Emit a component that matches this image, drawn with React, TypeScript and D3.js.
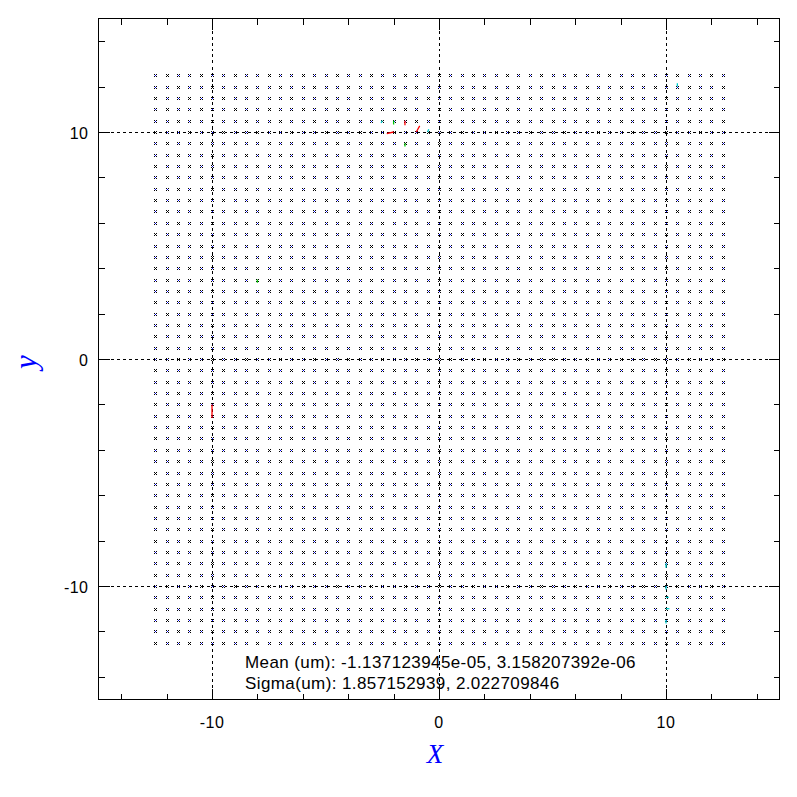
import React from "react";
import * as d3 from "d3";

// lattice of measured positions (same for x and y)
const gridValues = [
  -12.5, -12, -11.5, -11, -10.5, -10, -9.5, -9, -8.5, -8, -7.5, -7, -6.5, -6, -5.5, -5,
  -4.5, -4, -3.5, -3, -2.5, -2, -1.5, -1, -0.5, 0, 0.5, 1, 1.5, 2, 2.5, 3, 3.5, 4, 4.5,
  5, 5.5, 6, 6.5, 7, 7.5, 8, 8.5, 9, 9.5, 10, 10.5, 11, 11.5, 12, 12.5,
];

const majorTicks = [-10, 0, 10];
const minorTicks = [-14, -12, -8, -6, -4, -2, 2, 4, 6, 8, 12, 14];

// residual vectors (start x, start y, end x, end y, colour)
const residuals = [
  { x0: -10, y0: -2, x1: -10, y1: -2.6, c: "#ff0000" },
  { x0: -1, y0: 10, x1: -0.85, y1: 10.27, c: "#ff0000" },
  { x0: -2, y0: 10, x1: -2.3, y1: 9.93, c: "#ff0000" },
  { x0: -1.5, y0: 10.5, x1: -1.5, y1: 10.3, c: "#ff0000" },
  { x0: -2, y0: 10.5, x1: -2, y1: 10.33, c: "#00cc00" },
  { x0: -1.5, y0: 9.5, x1: -1.5, y1: 9.36, c: "#00cc00" },
  { x0: -8, y0: 3.5, x1: -8, y1: 3.36, c: "#00cc00" },
  { x0: -0.5, y0: 10, x1: -0.45, y1: 10.12, c: "#00cccc" },
  { x0: -2.5, y0: 10.5, x1: -2.55, y1: 10.4, c: "#00cccc" },
  { x0: 10, y0: -9, x1: 10, y1: -9.2, c: "#00cccc" },
  { x0: 10, y0: -10.5, x1: 10.12, y1: -10.5, c: "#00cccc" },
  { x0: 10, y0: -11, x1: 10.15, y1: -11, c: "#00cccc" },
  { x0: 10, y0: -11.5, x1: 10, y1: -11.65, c: "#00cccc" },
  { x0: 10.5, y0: 12, x1: 10.5, y1: 12.15, c: "#00cccc" },
  { x0: 10, y0: -10, x1: 10, y1: -10.15, c: "#00cccc" },
];

const statsLines = [
  "Mean (um): -1.137123945e-05, 3.158207392e-06",
  "Sigma(um): 1.857152939, 2.022709846",
];

const W = 797;
const H = 797;
const sans = "'Liberation Sans', Arial, Helvetica, sans-serif";
const serif = "'Liberation Serif', 'Times New Roman', serif";

export default function App() {
  const x = d3.scaleLinear().domain([-15, 15]).range([98.5, 779.5]);
  const y = d3.scaleLinear().domain([-15, 15]).range([699.5, 18.5]);
  const px = (v: number) => Math.round(x(v)) + 0.5;
  const py = (v: number) => Math.round(y(v)) + 0.5;

  // build the x markers as pixel paths
  let black = "";
  let blue = "";
  gridValues.forEach((gx, i) => {
    gridValues.forEach((gy, j) => {
      const cx = Math.round(x(gx));
      const cy = Math.round(y(gy));
      const corners = [
        [cx - 1, cy - 1],
        [cx + 1, cy - 1],
        [cx - 1, cy + 1],
        [cx + 1, cy + 1],
      ];
      corners.forEach(([a, b]) => {
        black += `M${a},${b}h1v1h-1z`;
      });
      // measured marker sits on top of the nominal one: centre pixel blue or black
      if ((i + j) % 3 === 0) black += `M${cx},${cy}h1v1h-1z`;
      else blue += `M${cx},${cy}h1v1h-1z`;
    });
  });

  const [x0, x1] = x.range();
  const [y0, y1] = y.range();

  return (
    <svg
      width={W}
      height={H}
      style={{ position: "absolute", left: 0, top: 0, background: "#fff" }}
    >
      <rect width={W} height={H} fill="#fff" />
      {/* dashed reference lines */}
      <g stroke="#000" strokeWidth={1} strokeDasharray="3,3" shapeRendering="crispEdges">
        {majorTicks.map((t) => (
          <line key={"v" + t} x1={px(t)} x2={px(t)} y1={y1} y2={y0} />
        ))}
        {majorTicks.map((t) => (
          <line key={"h" + t} x1={x0} x2={x1} y1={py(t)} y2={py(t)} />
        ))}
      </g>
      {/* lattice markers */}
      <path d={black} fill="#000" shapeRendering="crispEdges" />
      <path d={blue} fill="#0000ff" shapeRendering="crispEdges" />
      {/* residuals */}
      <g strokeWidth={1.3}>
        {residuals.map((r, i) => (
          <line key={i} x1={x(r.x0)} y1={y(r.y0)} x2={x(r.x1)} y2={y(r.y1)} stroke={r.c} />
        ))}
      </g>
      {/* frame */}
      <rect
        x={x0}
        y={y1}
        width={x1 - x0}
        height={y0 - y1}
        fill="none"
        stroke="#000"
        strokeWidth={1}
        shapeRendering="crispEdges"
      />
      {/* ticks */}
      <g stroke="#000" strokeWidth={1} shapeRendering="crispEdges">
        {[...majorTicks.map((t) => [t, 11]), ...minorTicks.map((t) => [t, 6])].map(([t, len]) => (
          <g key={"t" + t}>
            <line x1={px(t)} x2={px(t)} y1={y0} y2={y0 - len} />
            <line x1={px(t)} x2={px(t)} y1={y1} y2={y1 + len} />
            <line x1={x0} x2={x0 + len} y1={py(t)} y2={py(t)} />
            <line x1={x1} x2={x1 - len} y1={py(t)} y2={py(t)} />
          </g>
        ))}
      </g>
      {/* tick labels */}
      <g fontFamily={sans} fontSize={16} fill="#000">
        {majorTicks.map((t) => (
          <text key={"xl" + t} x={x(t)} y={y0 + 28} textAnchor="middle" letterSpacing={0.5}>
            {t}
          </text>
        ))}
        {majorTicks.map((t) => (
          <text key={"yl" + t} x={x0 - 10} y={y(t) + 7} textAnchor="end" letterSpacing={0.5}>
            {t}
          </text>
        ))}
      </g>
      {/* axis titles */}
      <text
        x={435}
        y={763}
        textAnchor="middle"
        fontFamily={serif}
        fontStyle="italic"
        fontSize={27}
        fill="#0000ff"
      >
        X
      </text>
      <text
        transform="translate(36,362) rotate(-90)"
        textAnchor="middle"
        fontFamily={serif}
        fontStyle="italic"
        fontSize={31}
        fill="#0000ff"
      >
        y
      </text>
      {/* statistics */}
      <g fontFamily={sans} fontSize={17} fill="#000" letterSpacing={0.4}>
        {statsLines.map((s, i) => (
          <text key={i} x={245} y={668 + i * 21}>
            {s}
          </text>
        ))}
      </g>
    </svg>
  );
}
